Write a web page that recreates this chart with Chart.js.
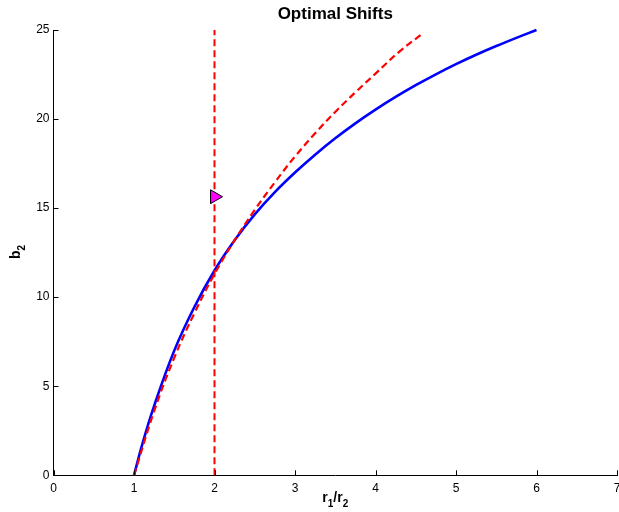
<!DOCTYPE html>
<html>
<head>
<meta charset="utf-8">
<title>Optimal Shifts</title>
<script src="https://cdn.jsdelivr.net/npm/chart.js@4.4.0/dist/chart.umd.min.js"></script>
<style>
    body { margin: 0; background: #fff; }
</style>
</head>
<body>
<canvas id="myChart" width="619" height="512"></canvas>
<script>
// values
var X_TICKS = [0, 1, 2, 3, 4, 5, 6, 7];
var Y_TICKS = [0, 5, 10, 15, 20, 25];

// solid blue curve
var blueX = [1.0, 1.1, 1.25, 1.5, 1.75, 2.0, 2.25, 2.5, 2.75, 3.0, 3.25, 3.5, 3.75, 4.0, 4.25, 4.5, 4.75, 5.0, 5.25, 5.5, 5.75, 6.0];
var blueY = [0, 1.7, 3.9, 7.0, 9.45, 11.5, 13.2, 14.65, 15.9, 17.0, 18.0, 18.92, 19.76, 20.53, 21.24, 21.9, 22.51, 23.08, 23.61, 24.1, 24.56, 25.0];

// dashed red curve
var redX = [1.0, 1.25, 1.5, 1.75, 2.0, 2.25, 2.5, 2.75, 3.0, 3.25, 3.5, 3.75, 4.0, 4.3, 4.6];
var redY = [0, 3.6, 6.6, 9.1, 11.3, 13.2, 14.9, 16.45, 17.9, 19.2, 20.4, 21.5, 22.55, 23.8, 24.85];

// dashed vertical line at r1/r2 = 2
var cutX = [2, 2];
var cutY = [0, 25];

// magenta marker
var markX = [2.0];
var markY = [15.64];

var FONT = "'Liberation Sans', Arial, Helvetica, sans-serif";

function pts(xs, ys) {
    var out = [];
    for (var i = 0; i < xs.length; i++) {
        out.push({x: xs[i], y: ys[i]});
    }
    return out;
}

// draws text pieces like r_1/r_2 with lowered small digits
function drawSub(ctx, parts, cx, y) {
    var big = 'bold 14px ' + FONT;
    var small = 'bold 10px ' + FONT;
    var total = 0;
    parts.forEach(function (p) {
        ctx.font = p[1] ? small : big;
        total += ctx.measureText(p[0]).width;
    });
    var x = cx - total / 2;
    ctx.textAlign = 'left';
    ctx.textBaseline = 'alphabetic';
    parts.forEach(function (p) {
        ctx.font = p[1] ? small : big;
        ctx.fillText(p[0], x, p[1] ? y + 5 : y);
        x += ctx.measureText(p[0]).width;
    });
}

// inward tick marks and axis titles, matlab style
var matlabAxes = {
    id: 'matlabAxes',
    afterDraw: function (chart) {
        var ctx = chart.ctx;
        var xs = chart.scales.x, ys = chart.scales.y;
        var area = chart.chartArea;
        ctx.save();
        ctx.strokeStyle = '#000';
        ctx.lineWidth = 1;
        ctx.beginPath();
        X_TICKS.forEach(function (v) {
            var px = Math.round(xs.getPixelForValue(v)) + 0.5;
            ctx.moveTo(px, area.bottom);
            ctx.lineTo(px, area.bottom - 5);
        });
        Y_TICKS.forEach(function (v) {
            var py = Math.round(ys.getPixelForValue(v)) + 0.5;
            ctx.moveTo(area.left, py);
            ctx.lineTo(area.left + 5, py);
        });
        ctx.stroke();

        ctx.fillStyle = '#000';
        drawSub(ctx, [['r', false], ['1', true], ['/r', false], ['2', true]], (area.left + area.right) / 2, 502);

        ctx.translate(20, 252);
        ctx.rotate(-Math.PI / 2);
        drawSub(ctx, [['b', false], ['2', true]], 0, 0);
        ctx.restore();
    }
};

const ctx = document.getElementById('myChart').getContext('2d');
const myChart = new Chart(ctx, {
    type: 'scatter',
    data: {
        datasets: [{
                label: 'marker',
                data: pts(markX, markY),
                pointStyle: 'triangle',
                rotation: 90,
                pointRadius: 8,
                backgroundColor: '#ff00ff',
                borderColor: '#000',
                borderWidth: 1,
                order: 0
            }, {
                label: 'cutoff',
                data: pts(cutX, cutY),
                showLine: true,
                borderColor: '#ff0000',
                borderWidth: 2,
                borderDash: [7, 4],
                pointRadius: 0,
                clip: false,
                order: 1
            }, {
                label: 'approx',
                data: pts(redX, redY),
                showLine: true,
                borderColor: '#ff0000',
                borderWidth: 2.2,
                borderDash: [7, 4],
                tension: 0.4,
                pointRadius: 0,
                clip: false,
                order: 2
            }, {
                label: 'optimal',
                data: pts(blueX, blueY),
                showLine: true,
                borderColor: '#0000ff',
                borderWidth: 2.6,
                tension: 0.4,
                pointRadius: 0,
                clip: false,
                order: 3
            }]
    },
    options: {
        responsive: false,
        animation: false,
        layout: {autoPadding: false, padding: {left: 0, right: 2, top: 0, bottom: 0}},
        plugins: {
            legend: {display: false},
            tooltip: {enabled: false},
            title: {
                display: true,
                text: 'Optimal Shifts',
                fullSize: false,
                color: '#000',
                font: {family: FONT, size: 17, weight: 'bold', lineHeight: 1.2},
                padding: {top: 4, bottom: 5.6}
            }
        },
        scales: {
            x: {
                type: 'linear',
                min: 0,
                max: 7,
                afterBuildTicks: function (scale) {
                    scale.ticks = X_TICKS.map(function (v) { return {value: v}; });
                },
                afterFit: function (scale) {
                    scale.height = 36.7;
                    scale.paddingLeft = 0;
                    scale.paddingRight = 0;
                },
                grid: {display: true, drawOnChartArea: false, drawTicks: false},
                border: {display: true, color: '#000', width: 1},
                ticks: {
                    color: '#000',
                    padding: 6,
                    maxRotation: 0,
                    font: {family: FONT, size: 12}
                }
            },
            y: {
                type: 'linear',
                min: 0,
                max: 25,
                afterBuildTicks: function (scale) {
                    scale.ticks = Y_TICKS.map(function (v) { return {value: v}; });
                },
                afterFit: function (scale) {
                    scale.width = 53.5;
                    scale.paddingTop = 0;
                    scale.paddingBottom = 0;
                },
                grid: {display: true, drawOnChartArea: false, drawTicks: false},
                border: {display: true, color: '#000', width: 1},
                ticks: {
                    color: '#000',
                    padding: 4,
                    font: {family: FONT, size: 12}
                }
            }
        }
    },
    plugins: [matlabAxes]
});
</script>
</body>
</html>
